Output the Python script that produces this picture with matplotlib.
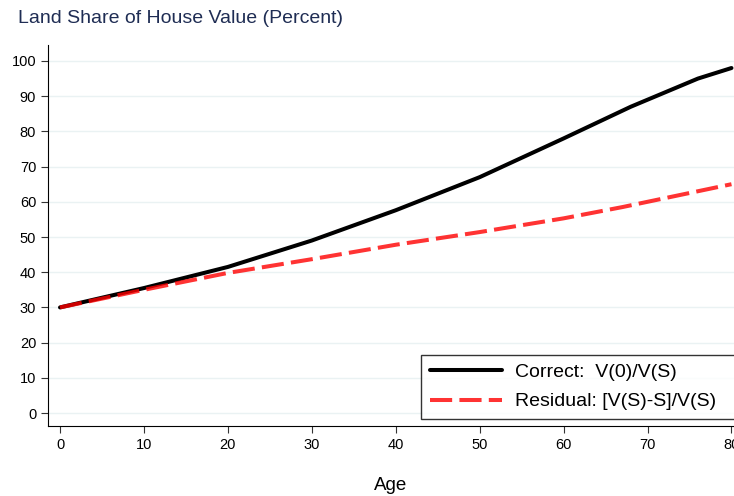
import matplotlib
matplotlib.use("Agg")
import matplotlib.pyplot as plt

plt.rcParams['font.family'] = ['Liberation Sans', 'DejaVu Sans']

age_correct = [0, 10, 20, 30, 40, 50, 60, 68, 76, 80]
share_correct = [30, 35.5, 41.5, 49.0, 57.6, 67.0, 78.0, 87.0, 95.0, 98.0]

age_resid = [0, 10, 20, 30, 40, 50, 60, 67, 80]
share_resid = [30, 35.0, 39.8, 43.7, 47.8, 51.4, 55.3, 58.5, 65.0]

fig = plt.figure(figsize=(7.34, 4.96), dpi=100)
ax = fig.add_axes([0.0654, 0.141, 0.9346, 0.768])

ax.plot(age_correct, share_correct, color="black", lw=2.9, solid_capstyle="round",
        label="Correct:  V(0)/V(S)")
ax.plot(age_resid, share_resid, color="red", lw=2.9, ls=(0, (5.5, 1.8)), alpha=0.8,
        label="Residual: [V(S)-S]/V(S)")

ax.set_xlim(-1.43, 80.3)
ax.set_ylim(-3.7, 104.5)
ax.set_xticks(range(0, 81, 10))
ax.set_yticks(range(0, 101, 10))
ax.grid(axis="y", color="#eaf2f3", lw=1)
ax.set_axisbelow(True)
for s in ["top", "right"]:
    ax.spines[s].set_visible(False)
ax.tick_params(labelsize=10.5, length=5, pad=3.5, color="#333333")
ax.set_xlabel("Age", fontsize=13.5, labelpad=18)

fig.text(0.024, 0.963, "Land Share of House Value (Percent)", fontsize=14,
         color="#1f2d54", va="center", ha="left")

leg = ax.legend(loc="lower left", fontsize=14, frameon=True, fancybox=False,
                edgecolor="black", handlelength=3.7, borderaxespad=0.0,
                borderpad=0.45, labelspacing=0.6, handletextpad=0.65,
                mode="expand", bbox_to_anchor=(0.544, 0.018, 0.47, 0.17))
leg.get_frame().set_linewidth(1.0)

fig.savefig("out.png", dpi=100)
